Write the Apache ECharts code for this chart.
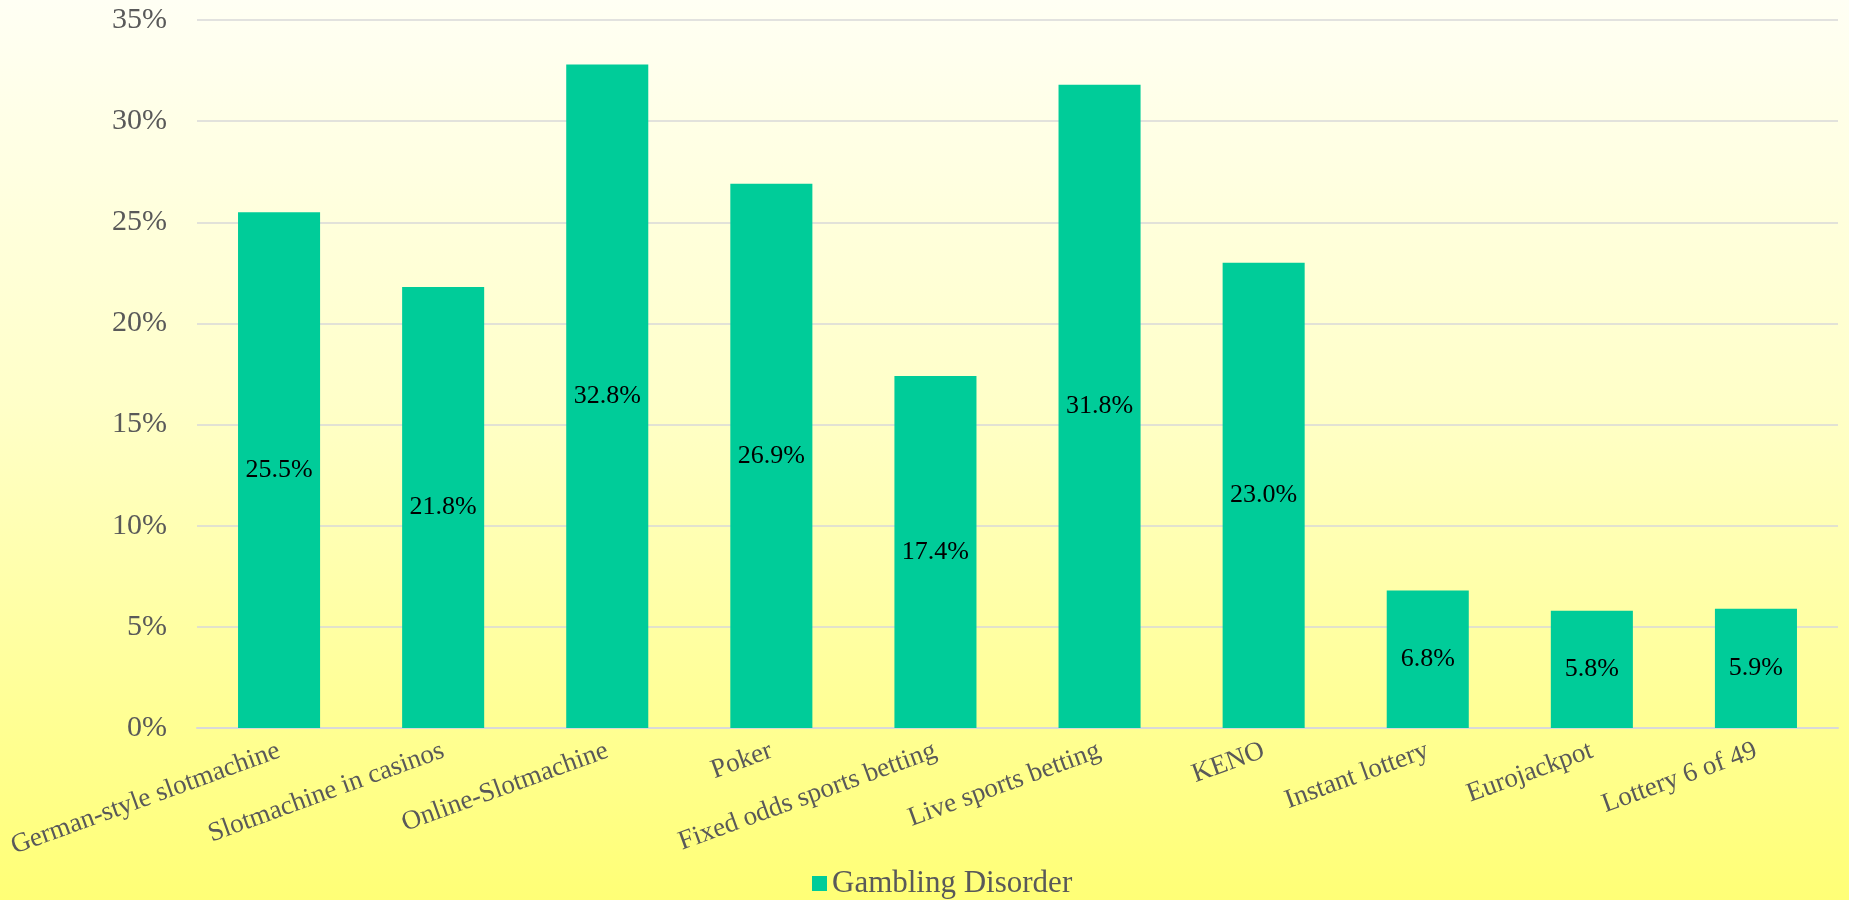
<!DOCTYPE html>
<html>
<head>
<meta charset="utf-8">
<script src="https://cdn.jsdelivr.net/npm/echarts@6/dist/echarts.min.js"></script>
<style>
    html, body { margin: 0; padding: 0; }
    #chart { width: 1849px; height: 900px; }
</style>
</head>
<body>
<div id="chart"></div>
<script>
var categories = ['German-style slotmachine', 'Slotmachine in casinos', 'Online-Slotmachine', 'Poker',
    'Fixed odds sports betting', 'Live sports betting', 'KENO', 'Instant lottery', 'Eurojackpot', 'Lottery 6 of 49'];
var disorder = [25.5, 21.8, 32.8, 26.9, 17.4, 31.8, 23.0, 6.8, 5.8, 5.9];
var seriesName = 'Gambling Disorder';

var serif = '"Liberation Serif", "Times New Roman", serif';

var myChart = echarts.init(document.getElementById('chart'));
var option = {
    backgroundColor: {
        type: 'linear', x: 0, y: 0, x2: 0, y2: 1,
        colorStops: [
            { offset: 0, color: '#fffff4' },
            { offset: 0.45, color: '#ffffc8' },
            { offset: 1, color: '#ffff76' }
        ]
    },
    textStyle: { fontFamily: serif },
    legend: {
        data: [seriesName],
        left: 807,
        top: 863,
        itemWidth: 15,
        itemHeight: 15,
        icon: 'rect',
        textStyle: { fontFamily: serif, fontSize: 31, color: '#595959' }
    },
    grid: { left: 197, right: 11, top: 20, bottom: 172 },
    xAxis: {
        type: 'category',
        data: categories,
        axisTick: { show: false },
        axisLine: { lineStyle: { color: '#d9d9d9', width: 2 } },
        axisLabel: {
            interval: 0,
            rotate: 20,
            margin: 22,
            fontFamily: serif,
            fontSize: 27,
            color: '#595959'
        }
    },
    yAxis: {
        type: 'value',
        min: 0,
        max: 35,
        interval: 5,
        axisLine: { show: false },
        axisTick: { show: false },
        splitLine: { lineStyle: { color: '#d9d9d9', width: 1.5 } },
        axisLabel: {
            formatter: '{value}%',
            margin: 30,
            fontFamily: serif,
            fontSize: 30,
            color: '#595959'
        }
    },
    series: [{
        name: seriesName,
        type: 'bar',
        data: disorder,
        barWidth: '50%',
        itemStyle: { color: '#00cc99' },
        label: {
            show: true,
            position: 'inside',
            fontFamily: serif,
            fontSize: 26,
            color: '#000',
            formatter: function (p) { return p.value.toFixed(1) + '%'; }
        }
    }]
};
myChart.setOption(option);
</script>
</body>
</html>
